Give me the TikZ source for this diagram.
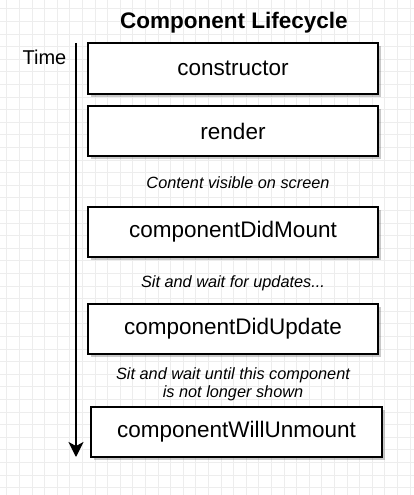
\documentclass[tikz,border=0pt]{standalone}
\usepackage{fontspec}
\setmainfont{Liberation Sans}
\usetikzlibrary{arrows.meta,shadows}
\tikzset{
  stagebox/.style={draw=black, line width=2pt, fill=white, minimum width=290pt, minimum height=50pt,
    inner sep=0pt, font=\fontsize{22.5}{26}\selectfont,
    drop shadow={shadow xshift=2.5pt, shadow yshift=-3pt, opacity=0.35, fill=black!60}},
  notetext/.style={font=\itshape\fontsize{16.3}{19}\selectfont, align=center, inner sep=0pt},
  gridline/.style={draw=black!7, line width=0.6pt},
  timeline/.style={line width=2pt, -{Stealth[length=15pt,width=15pt,inset=4pt]}}
}
\begin{document}
\begin{tikzpicture}[x=1pt,y=-1pt]
\useasboundingbox (0,0) rectangle (414,495);
\fill[white] (0,0) rectangle (414,495);
% grid
\foreach \i in {0,...,33} {
  \draw[gridline] ({6.7+12.6*\i},0) -- ({6.7+12.6*\i},495);
}
\foreach \j in {0,...,39} {
  \draw[gridline] (0,{8.7+12.6*\j}) -- (414,{8.7+12.6*\j});
}
% title
\node[font=\bfseries\fontsize{22.5}{26}\selectfont, inner sep=0pt] (title) at (234,23) {Component Lifecycle};
\node[font=\fontsize{20}{24}\selectfont, inner sep=0pt] (time) at (44.5,57) {Time};
% timeline
\coordinate (ttop) at (76,43);
\coordinate (tbot) at (76,457);
\draw[timeline] (ttop) -- (tbot);
% boxes
\node[stagebox] (ctor) at (233,68.5) {constructor};
\node[stagebox] (render) at (233,131) {render};
\node[notetext] (n1) at (238,183) {Content visible on screen};
\node[stagebox] (mount) at (233,232) {componentDidMount};
\node[notetext] (n2) at (233,283) {Sit and wait for updates...};
\node[stagebox] (update) at (233,329) {componentDidUpdate};
\node[notetext, text depth=0pt] (n3) at (233,382.5) {Sit and wait until this component\\[-1.5pt]is not longer shown};
\node[stagebox, minimum width=291pt] (unmount) at (236.5,432) {componentWillUnmount};
\end{tikzpicture}
\end{document}
